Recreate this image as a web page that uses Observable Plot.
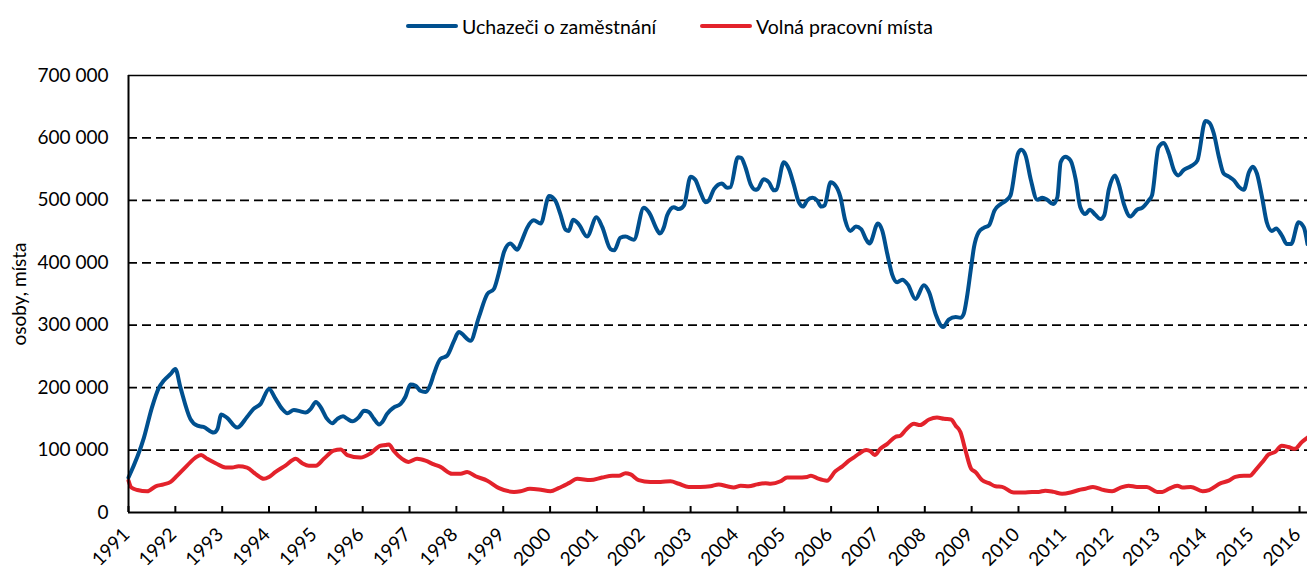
<!DOCTYPE html>
<html>
<head>
<meta charset="utf-8">
<script src="https://cdn.jsdelivr.net/npm/d3@7"></script>
<script src="https://cdn.jsdelivr.net/npm/@observablehq/plot@0.6"></script>
<style>
  html, body { margin: 0; padding: 0; background: #fff; }
  #legend { height: 50px; position: relative; font-family: Lato, sans-serif; font-size: 19.5px; color: #000; }
  .sw { display: inline-block; width: 52px; height: 4px; margin-right: 4px; border-radius: 2px; }
  .item { position: absolute; top: 0; height: 52px; display: flex; align-items: center; white-space: nowrap; }
  #chart svg { overflow: visible; }
</style>
</head>
<body>
<div id="legend"></div>
<div id="chart"></div>
<script>
// ---- data (time in decimal years, values in thousands) ----
const seriesNames = ["Uchazeči o zaměstnání", "Volná pracovní místa"];
const seriesColors = ["#00508f", "#e3222b"];

const uchazeciT = [1991.00,1991.33,1991.50,1991.65,1991.75,1991.90,1992.00,1992.11,1992.32,1992.47,1992.60,1992.82,1992.90,1992.98,1993.10,1993.32,1993.53,1993.67,1993.82,1994.00,1994.14,1994.28,1994.39,1994.53,1994.67,1994.78,1994.89,1995.00,1995.10,1995.24,1995.35,1995.46,1995.58,1995.67,1995.78,1995.92,1996.03,1996.13,1996.24,1996.35,1996.42,1996.52,1996.66,1996.81,1996.91,1997.02,1997.13,1997.23,1997.34,1997.45,1997.52,1997.66,1997.80,1997.95,1998.05,1998.30,1998.48,1998.66,1998.80,1998.90,1999.02,1999.15,1999.30,1999.40,1999.51,1999.65,1999.80,1999.98,2000.11,2000.22,2000.33,2000.40,2000.49,2000.61,2000.79,2000.99,2001.11,2001.29,2001.37,2001.50,2001.61,2001.79,2002.00,2002.11,2002.29,2002.34,2002.43,2002.50,2002.64,2002.75,2002.86,2003.00,2003.10,2003.21,2003.32,2003.39,2003.50,2003.67,2003.78,2003.85,2004.01,2004.08,2004.17,2004.28,2004.38,2004.43,2004.56,2004.67,2004.78,2004.83,2004.99,2005.10,2005.20,2005.31,2005.40,2005.49,2005.60,2005.70,2005.79,2005.86,2005.99,2006.09,2006.20,2006.30,2006.41,2006.53,2006.64,2006.75,2006.82,2007.00,2007.09,2007.20,2007.30,2007.41,2007.52,2007.64,2007.80,2007.98,2008.09,2008.23,2008.39,2008.51,2008.66,2008.76,2008.83,2008.90,2008.98,2009.05,2009.15,2009.26,2009.37,2009.49,2009.62,2009.74,2009.83,2009.99,2010.06,2010.15,2010.26,2010.40,2010.51,2010.61,2010.74,2010.83,2010.90,2011.00,2011.11,2011.22,2011.32,2011.43,2011.52,2011.64,2011.75,2011.83,2011.93,2012.06,2012.14,2012.25,2012.39,2012.53,2012.64,2012.78,2012.85,2012.99,2013.10,2013.21,2013.32,2013.41,2013.53,2013.64,2013.71,2013.82,2013.99,2014.08,2014.17,2014.28,2014.38,2014.49,2014.60,2014.70,2014.81,2014.92,2015.00,2015.09,2015.20,2015.30,2015.41,2015.50,2015.62,2015.73,2015.82,2015.98,2016.09,2016.17];
const uchazeciV = [56,120,168,200,211,222,230,200,150,139,137,128,134,157,152,136,153,166,174,198,182,166,159,164,162,160,166,177,169,150,143,150,154,150,146,153,163,161,150,141,145,158,168,174,185,205,203,195,193,206,222,246,251,275,289,275,313,350,358,382,418,431,421,436,456,468,463,507,500,478,453,451,469,462,442,473,458,422,420,440,442,437,488,481,452,447,457,476,489,486,492,538,533,513,497,500,518,527,520,521,569,568,553,526,517,518,534,529,516,517,561,550,526,497,490,500,504,500,490,492,529,524,505,468,451,458,454,437,431,463,452,414,382,369,373,365,342,364,353,318,297,309,313,312,318,345,388,425,449,456,460,484,494,500,508,575,581,572,534,501,504,501,494,505,561,570,564,534,489,478,485,477,470,476,518,540,526,494,474,485,488,500,508,585,592,575,548,540,549,553,556,564,627,624,607,569,543,538,532,522,517,545,554,543,505,465,451,455,444,430,430,465,457,430];

const mistaT = [1991.00,1991.06,1991.19,1991.40,1991.58,1991.75,1991.90,1992.04,1992.25,1992.43,1992.55,1992.68,1992.86,1993.07,1993.21,1993.35,1993.53,1993.71,1993.89,1994.00,1994.14,1994.35,1994.57,1994.71,1994.85,1995.00,1995.17,1995.38,1995.53,1995.67,1995.95,1996.17,1996.38,1996.49,1996.56,1996.66,1996.84,1996.98,1997.16,1997.34,1997.52,1997.66,1997.91,1998.09,1998.23,1998.41,1998.66,1998.91,1999.23,1999.37,1999.57,1999.76,2000.01,2000.18,2000.40,2000.58,2000.86,2001.11,2001.33,2001.47,2001.61,2001.72,2001.89,2002.14,2002.36,2002.57,2002.75,2002.96,2003.21,2003.42,2003.60,2003.78,2003.92,2004.07,2004.24,2004.42,2004.60,2004.71,2004.92,2005.06,2005.27,2005.49,2005.57,2005.70,2005.91,2006.09,2006.24,2006.38,2006.48,2006.59,2006.75,2006.84,2006.93,2007.05,2007.20,2007.37,2007.48,2007.59,2007.77,2007.90,2008.09,2008.26,2008.41,2008.56,2008.66,2008.76,2008.87,2008.99,2009.08,2009.22,2009.37,2009.51,2009.65,2009.90,2010.11,2010.29,2010.43,2010.57,2010.75,2010.93,2011.11,2011.29,2011.43,2011.59,2011.82,2012.00,2012.18,2012.35,2012.53,2012.74,2012.96,2013.07,2013.21,2013.39,2013.50,2013.68,2013.93,2014.07,2014.32,2014.49,2014.63,2014.81,2014.94,2015.06,2015.23,2015.34,2015.48,2015.62,2015.76,2015.90,2016.05,2016.17];
const mistaV = [51,40,36,34,42,45,49,59,75,88,92,86,79,72,72,74,72,62,54,57,65,75,86,79,75,75,86,99,101,92,88,95,107,108,109,99,86,81,86,83,77,73,62,62,65,58,51,39,33,34,38,37,34,39,47,54,52,56,59,59,63,61,52,49,49,50,46,41,41,42,45,42,40,43,42,45,47,46,50,56,56,57,59,55,51,66,74,83,88,94,100,98,92,102,110,121,123,132,142,140,149,152,150,149,139,129,99,70,65,52,47,42,41,32,32,33,33,35,33,30,32,36,38,41,36,34,40,43,41,41,33,33,38,43,40,41,34,36,47,51,57,59,59,68,83,93,97,107,105,102,113,120];

const yearTicks = d3.range(1991, 2017);
const yTicks = [0, 100000, 200000, 300000, 400000, 500000, 600000, 700000];
const yGrid = [100000, 200000, 300000, 400000, 500000, 600000];
const yLabel = "osoby, místa";

// ---- build ----
const uch = uchazeciT.map((t, i) => ({t, v: uchazeciV[i] * 1000}));
const mis = mistaT.map((t, i) => ({t, v: mistaV[i] * 1000}));

const legend = document.getElementById("legend");
const legendLeft = [406, 700];
seriesNames.forEach((name, i) => {
  const item = document.createElement("div");
  item.className = "item";
  item.style.left = legendLeft[i] + "px";
  const sw = document.createElement("span");
  sw.className = "sw";
  sw.style.background = seriesColors[i];
  const tx = document.createElement("span");
  tx.textContent = name;
  item.appendChild(sw); item.appendChild(tx);
  legend.appendChild(item);
});

const fmt = d => d === 0 ? "0" : d3.format(",")(d).replace(/,/g, " ");

const chart = Plot.plot({
  width: 1307,
  height: 520,
  marginLeft: 128,
  marginRight: 0,
  marginTop: 25,
  marginBottom: 58,
  style: {fontFamily: "Lato, sans-serif", fontSize: "18px", color: "#000", background: "#fff", overflow: "visible"},
  x: {domain: [1991, 2016.17]},
  y: {domain: [0, 700000]},
  marks: [
    Plot.ruleY(yGrid, {stroke: "#000", strokeWidth: 1.8, strokeDasharray: "9,5"}),
    Plot.ruleY([700000], {stroke: "#000", strokeWidth: 1.5}),
    Plot.line(mis, {x: "t", y: "v", stroke: seriesColors[1], strokeWidth: 4, curve: "monotone-x"}),
    Plot.line(uch, {x: "t", y: "v", stroke: seriesColors[0], strokeWidth: 4, curve: "monotone-x"}),
    Plot.ruleY([0], {stroke: "#000", strokeWidth: 2}),
    Plot.ruleX([1991], {stroke: "#000", strokeWidth: 2}),
    Plot.axisX(yearTicks, {tickSize: -6, fill: "none", stroke: "#000", strokeWidth: 2, label: null}),
    Plot.text(yearTicks, {x: d => d, frameAnchor: "bottom", text: d => String(d), rotate: -45, textAnchor: "end", lineAnchor: "middle", dx: -2, dy: 19, fontSize: 19, fill: "#000"}),
    Plot.axisY(yTicks, {tickSize: 0, tickPadding: 20, tickFormat: fmt, fontSize: 19, label: yLabel, labelAnchor: "center", labelArrow: "none", labelOffset: 116})
  ]
});
document.getElementById("chart").appendChild(chart);
</script>
</body>
</html>
